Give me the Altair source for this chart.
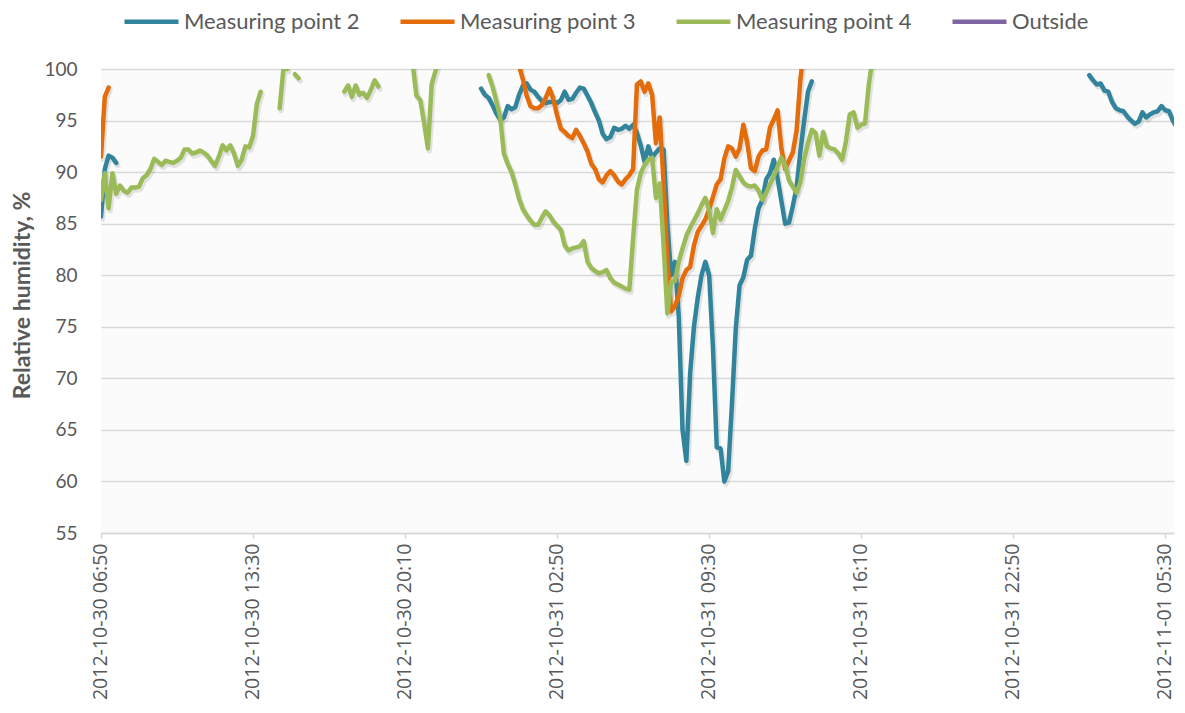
import altair as alt
import pandas as pd

# ---- data (10-minute readings; each segment = start time + consecutive values) ----
series_names = ["Measuring point 2", "Measuring point 3", "Measuring point 4", "Outside"]
series_colors = ["#31849b", "#e46c0a", "#9bbb59", "#8064a2"]

mp2_starts = ["2012-10-30 06:50", "2012-10-30 23:30", "2012-11-01 02:10"]
mp2_values = [
    [85.7, 90.3, 91.6, 91.4, 90.9],
    [98.1, 97.5, 97.2, 96.5, 95.7, 95.1, 95.3, 96.4, 96.1, 96.3,
     97.5, 98.4, 98.6, 98.0, 97.8, 97.3, 96.9, 96.7, 96.8, 96.8,
     96.7, 97.0, 97.8, 97.0, 97.1, 97.7, 98.2, 98.1, 97.4, 96.7,
     95.8, 95.0, 93.7, 93.2, 93.4, 94.3, 94.1, 94.2, 94.5, 94.2,
     94.6, 93.8, 92.6, 91.0, 92.5, 91.4, 91.9, 92.3, 92.2, 85.0,
     80.0, 81.3, 76.0, 65.0, 62.0, 70.5, 75.0, 77.8, 80.0, 81.3,
     80.0, 73.0, 63.3, 63.2, 60.0, 61.0, 67.5, 74.8, 79.0, 79.8,
     81.5, 81.9, 84.5, 86.5, 87.3, 89.3, 89.9, 91.2, 89.4, 87.2,
     85.0, 85.1, 86.7, 88.5, 92.0, 95.0, 97.8, 98.8],
    [99.4, 98.9, 98.5, 98.6, 97.9, 97.8, 96.8, 96.2, 96.0, 95.9,
     95.4, 95.0, 94.7, 94.9, 95.8, 95.3, 95.6, 95.8, 95.9, 96.4,
     96.0, 95.9, 95.0, 94.4],
]

mp3_starts = ["2012-10-30 06:50", "2012-10-31 01:10"]
mp3_values = [
    [91.5, 97.3, 98.2],
    [100.3, 99.0, 97.4, 96.4, 96.2, 96.2, 96.5, 97.2, 98.1, 97.1,
     95.5, 94.2, 93.9, 93.5, 93.3, 94.1, 93.5, 92.8, 92.0, 90.8,
     90.3, 89.3, 89.0, 89.7, 90.1, 89.7, 89.1, 88.8, 89.3, 89.7,
     90.3, 98.5, 98.8, 97.8, 98.6, 97.5, 92.8, 95.3, 89.0, 81.5,
     76.5, 77.0, 78.0, 79.7, 80.5, 80.8, 82.9, 84.2, 84.8, 85.4,
     86.4, 87.6, 88.8, 89.3, 91.3, 92.5, 92.3, 91.5, 92.3, 94.6,
     92.9, 90.4, 90.1, 91.5, 92.1, 92.2, 94.3, 95.1, 96.0, 92.3,
     90.3, 91.1, 91.9, 94.0, 99.0, 102.0],
]

mp4_starts = ["2012-10-30 06:50", "2012-10-30 14:40", "2012-10-30 15:20",
              "2012-10-30 17:30", "2012-10-30 20:30", "2012-10-30 23:50"]
mp4_values = [
    [87.3, 89.9, 86.5, 89.9, 87.9, 88.7, 88.2, 88.0, 88.5, 88.5,
     88.6, 89.4, 89.7, 90.3, 91.3, 91.0, 90.7, 91.1, 91.0, 90.9,
     91.1, 91.4, 92.2, 92.2, 91.8, 91.9, 92.1, 91.9, 91.6, 91.1,
     90.6, 91.5, 92.6, 92.1, 92.6, 91.8, 90.6, 91.2, 92.5, 92.4,
     93.5, 96.6, 97.8],
    [96.2, 100.0, 100.0],
    [99.5, 99.1],
    [97.8, 98.4, 97.3, 98.4, 97.5, 97.7, 97.2, 98.0, 98.9, 98.3],
    [100.5, 97.4, 97.0, 94.8, 92.3, 98.5, 99.8, 101.0],
    [99.4, 98.3, 96.9, 95.4, 91.8, 90.8, 90.0, 88.8, 87.4, 86.4,
     85.8, 85.3, 84.9, 84.9, 85.6, 86.2, 85.8, 85.2, 84.8, 84.4,
     82.9, 82.4, 82.6, 82.7, 82.8, 83.3, 81.3, 80.7, 80.4, 80.2,
     80.3, 80.5, 79.7, 79.3, 79.1, 78.9, 78.7, 78.6, 83.6, 88.3,
     89.9, 90.7, 91.2, 91.4, 87.5, 88.9, 83.0, 76.3, 79.4, 79.4,
     81.3, 82.6, 83.8, 84.6, 85.3, 86.0, 86.8, 87.5, 86.3, 84.1,
     86.4, 85.4, 86.3, 87.2, 88.5, 90.2, 89.6, 89.0, 88.7, 88.6,
     88.7, 88.2, 87.3, 88.0, 88.8, 89.6, 90.5, 91.4, 90.7, 89.2,
     88.6, 88.0, 89.0, 91.3, 92.8, 94.1, 93.8, 91.6, 93.9, 92.5,
     92.3, 92.2, 91.8, 91.2, 93.0, 95.6, 95.8, 94.3, 94.6, 94.7,
     98.5, 101.0],
]

x_tick_labels = ["2012-10-30 06:50", "2012-10-30 13:30", "2012-10-30 20:10",
                 "2012-10-31 02:50", "2012-10-31 09:30", "2012-10-31 16:10",
                 "2012-10-31 22:50", "2012-11-01 05:30"]
x_range = ["2012-10-30 06:50", "2012-11-01 05:53"]
y_ticks = [55, 60, 65, 70, 75, 80, 85, 90, 95, 100]

# ---- build table ----
def ms(s):
    return int(pd.Timestamp(s).value // 10**6)

rows = []
for name, starts, values in [
    (series_names[0], mp2_starts, mp2_values),
    (series_names[1], mp3_starts, mp3_values),
    (series_names[2], mp4_starts, mp4_values),
]:
    for si, (st, vals) in enumerate(zip(starts, values)):
        t0 = pd.Timestamp(st)
        for i, v in enumerate(vals):
            t = t0 + pd.Timedelta(minutes=10 * i)
            rows.append({"series": name, "seg": f"{name}-{si}",
                         "t": int(t.value // 10**6), "rh": v})
df = pd.DataFrame(rows)

FONT = "Lato"
GREY = "#595959"

x_enc = alt.X(
    "t:T",
    scale=alt.Scale(type="utc", domain=[ms(x_range[0]), ms(x_range[1])]),
    axis=alt.Axis(
        values=[ms(s) for s in x_tick_labels],
        labelExpr="utcFormat(datum.value, '%Y-%m-%d %H:%M')",
        labelAngle=270, labelAlign="right", labelBaseline="middle",
        labelFont="Open Sans", labelFontSize=19.5, labelColor=GREY,
        labelPadding=5, labelOffset=-1,
        tickColor="#d9d9d9", tickSize=5, tickWidth=1.5,
        domainColor="#d9d9d9", domainWidth=1.5,
        grid=False, title="",
    ),
)
y_enc = alt.Y(
    "rh:Q",
    scale=alt.Scale(domain=[55, 100], nice=False, zero=False),
    axis=alt.Axis(
        values=y_ticks, title="Relative humidity, %",
        titleFont=FONT, titleFontSize=23, titleFontWeight="bold", titleColor=GREY,
        titleX=-79, titleY=226, titleAngle=270, titleAlign="center", titleBaseline="middle",
        labelFont=FONT, labelFontSize=19, labelColor=GREY, labelPadding=24,
        ticks=False, domain=False,
        gridColor="#d9d9d9", gridWidth=1.5,
    ),
)

shadow = alt.Chart(df).mark_line(
    clip=True, strokeWidth=5.5, color="#000000", opacity=0.10,
    xOffset=1.5, yOffset=2.5, strokeJoin="round", strokeCap="round",
).encode(x=x_enc, y=y_enc, detail="seg:N")

lines = alt.Chart(df).mark_line(
    clip=True, strokeWidth=4.5, strokeJoin="round", strokeCap="round",
).encode(
    x=x_enc, y=y_enc, detail="seg:N",
    color=alt.Color(
        "series:N",
        scale=alt.Scale(domain=series_names, range=series_colors),
        legend=alt.Legend(
            title=None, orient="none", legendX=21, legendY=-77,
            direction="horizontal", symbolType="stroke", symbolSize=2916,
            symbolStrokeWidth=4.5, labelFont=FONT, labelFontSize=22,
            labelColor=GREY, labelOffset=3, columnPadding=31, padding=0,
            labelLimit=0,
        ),
    ),
)

chart = alt.layer(shadow, lines).properties(
    width=1073, height=464,
    autosize=alt.AutoSizeParams(type="none"),
    padding={"left": 93, "top": 61, "right": 3, "bottom": 167},
).configure_view(stroke=None, fill="#fbfbfb")

chart.save("out.html", embed_options={"renderer": "svg", "actions": False})
